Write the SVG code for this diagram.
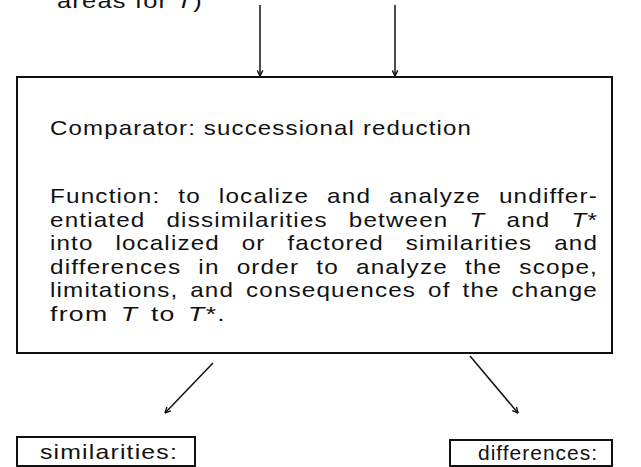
<svg xmlns="http://www.w3.org/2000/svg" width="641" height="467" viewBox="0 0 641 467">
<defs>
<style>
text{font-family:"Liberation Sans",Arial,sans-serif;font-size:21px;fill:#111;letter-spacing:1px}
.box{fill:#fff;stroke:#111;stroke-width:2}
.edge{stroke:#111;stroke-width:1.5;fill:none}
.it{font-style:italic}
</style>
<marker id="ah" viewBox="0 0 10 10" refX="9" refY="5" markerWidth="7" markerHeight="7" markerUnits="userSpaceOnUse" orient="auto">
<path d="M1,1 L9,5 L1,9" fill="none" stroke="#111" stroke-width="2"/>
</marker>
</defs>
<rect width="641" height="467" fill="#fff"/>
<text x="57" y="8" textLength="146" lengthAdjust="spacingAndGlyphs">areas for <tspan class="it">T</tspan>)</text>
<g id="connectors">
<line class="edge" x1="260" y1="5" x2="260" y2="76" marker-end="url(#ah)"/>
<line class="edge" x1="395" y1="5" x2="395" y2="76" marker-end="url(#ah)"/>
<line class="edge" x1="213" y1="363" x2="165" y2="413" marker-end="url(#ah)"/>
<line class="edge" x1="470" y1="356" x2="518" y2="413" marker-end="url(#ah)"/>
</g>
<g id="comparator">
<rect class="box" x="17" y="77" width="595" height="276"/>
<text x="50" y="135" textLength="422" lengthAdjust="spacingAndGlyphs">Comparator: successional reduction</text>
<text x="50" y="203" textLength="548" lengthAdjust="spacingAndGlyphs" style="word-spacing:8.7px">Function: to localize and analyze undiffer-</text>
<text x="50" y="227" textLength="548" lengthAdjust="spacingAndGlyphs" style="word-spacing:11.4px">entiated dissimilarities between <tspan class="it">T</tspan> and <tspan class="it">T</tspan>*</text>
<text x="50" y="250" textLength="548" lengthAdjust="spacingAndGlyphs" style="word-spacing:12.2px">into localized or factored similarities and</text>
<text x="50" y="274" textLength="548" lengthAdjust="spacingAndGlyphs" style="word-spacing:7.9px">differences in order to analyze the scope,</text>
<text x="50" y="297" textLength="548" lengthAdjust="spacingAndGlyphs" style="word-spacing:3.5px">limitations, and consequences of the change</text>
<text x="50" y="321" textLength="176" lengthAdjust="spacingAndGlyphs" style="word-spacing:3px">from <tspan class="it">T</tspan> to <tspan class="it">T</tspan>*.</text>
</g>
<g id="similarities">
<rect class="box" x="17" y="437" width="178" height="29"/>
<text x="40" y="459" textLength="138" lengthAdjust="spacingAndGlyphs">similarities:</text>
</g>
<g id="differences">
<rect class="box" x="450" y="440" width="162" height="26"/>
<text x="478" y="460" textLength="120" lengthAdjust="spacingAndGlyphs">differences:</text>
</g>
</svg>
